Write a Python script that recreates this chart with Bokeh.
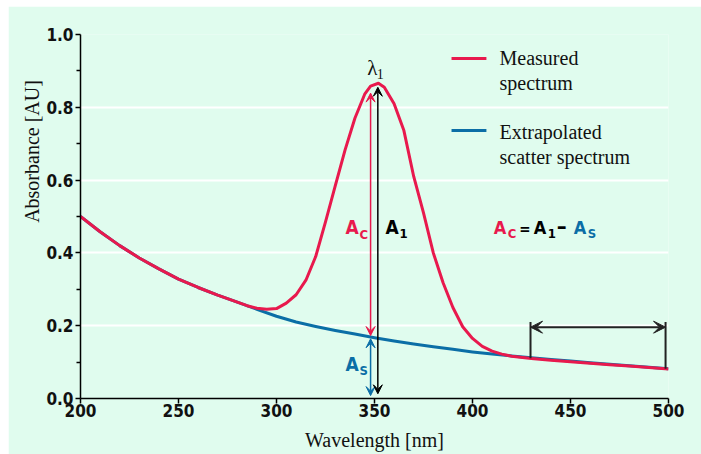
import numpy as np
from bokeh.plotting import figure
from bokeh.layouts import column, row
from bokeh.models import (Range1d, Label, Arrow, VeeHead, FixedTicker, PrintfTickFormatter,
                          Spacer)
from bokeh.embed import file_html
from bokeh.resources import INLINE

# ---------------- data ----------------
scatter_wl = [200, 210, 220, 230, 240, 250, 260, 270, 280, 290, 300, 310, 320, 330, 340,
              350, 360, 370, 380, 390, 400, 410, 420, 430, 440, 450, 460, 470, 480, 490, 500]
scatter_abs = [0.500, 0.458, 0.420, 0.386, 0.356, 0.328, 0.305, 0.284, 0.265, 0.245, 0.226,
               0.210, 0.198, 0.187, 0.177, 0.167, 0.158, 0.150, 0.142, 0.135, 0.128, 0.122,
               0.117, 0.112, 0.107, 0.103, 0.098, 0.094, 0.090, 0.086, 0.082]

measured_wl = [200, 210, 220, 230, 240, 250, 260, 270, 280, 285, 290, 295, 300, 305, 310,
               315, 320, 325, 330, 335, 340, 345, 348, 352, 355, 360, 365, 370, 375, 380, 385,
               390, 395, 400, 405, 410, 415, 420, 430, 440, 450, 460, 470, 480, 490, 500]
measured_abs = [0.500, 0.458, 0.420, 0.386, 0.356, 0.328, 0.305, 0.284, 0.265, 0.255, 0.248,
                0.245, 0.247, 0.262, 0.285, 0.325, 0.390, 0.485, 0.585, 0.683, 0.770, 0.836,
                0.858, 0.866, 0.855, 0.810, 0.736, 0.610, 0.510, 0.400, 0.318, 0.250, 0.197,
                0.165, 0.143, 0.130, 0.122, 0.116, 0.110, 0.105, 0.101, 0.097, 0.093, 0.089,
                0.085, 0.081]

x_ticks = [200, 250, 300, 350, 400, 450, 500]
y_ticks = [0.0, 0.2, 0.4, 0.6, 0.8, 1.0]
y_minor = [0.1, 0.3, 0.5, 0.7, 0.9]

series_names = ["Measured", "spectrum", "Extrapolated", "scatter spectrum"]
x_title = "Wavelength [nm]"
y_title = "Absorbance [AU]"

# annotation anchors (wavelengths)
split_wl = 348.0      # A_C / A_S arrows
total_wl = 351.7      # A_1 arrow
window_wl = [429.6, 498.5]  # baseline window bracket

# ---------------- style ----------------
MINT = "#e0fcee"
RED = "#e8194d"
BLUE = "#0b6ea6"
DARK = "#222222"
INK = "#111111"
SERIF = "Liberation Serif"
NARROW = "'Liberation Sans Narrow', 'DejaVu Sans Condensed', 'Roboto Condensed', Roboto, sans-serif"
Y_TITLE_PAD = "\u00a0" * 26   # lifts the y title above the frame centre, as in the original

p = figure(width=693, height=448, x_range=Range1d(200, 500), y_range=Range1d(0, 1.0),
           output_backend="svg", toolbar_location=None,
           min_border_left=72, min_border_right=33, min_border_top=28, min_border_bottom=56,
           background_fill_color=MINT, border_fill_color=MINT, outline_line_color=None)

p.xgrid.visible = False
p.ygrid.ticker = FixedTicker(ticks=y_ticks)
p.ygrid.grid_line_color = "white"
p.ygrid.grid_line_width = 2

for ax in (p.xaxis[0], p.yaxis[0]):
    ax.axis_line_color = "black"
    ax.axis_line_width = 1.5
    ax.major_tick_line_color = "black"
    ax.major_tick_line_width = 1.5
    ax.minor_tick_line_color = "black"
    ax.minor_tick_line_width = 1.5
    ax.major_tick_in = 0
    ax.major_tick_out = 5
    ax.minor_tick_in = 0
    ax.minor_tick_out = 4
    ax.major_label_text_font = NARROW
    ax.major_label_text_font_style = "bold"
    ax.major_label_text_font_size = "17px"
    ax.major_label_text_color = INK
    ax.axis_label_text_font = SERIF
    ax.axis_label_text_font_size = "20px"
    ax.axis_label_text_font_style = "normal"
    ax.axis_label_text_color = INK

p.xaxis.ticker = FixedTicker(ticks=x_ticks)
p.xaxis.formatter = PrintfTickFormatter(format="%d")
p.xaxis.major_label_standoff = 0
p.xaxis.axis_label = x_title
p.xaxis.axis_label_standoff = 9

p.yaxis.ticker = FixedTicker(ticks=y_ticks, minor_ticks=y_minor)
p.yaxis.formatter = PrintfTickFormatter(format="%.1f")
p.yaxis.major_label_standoff = 2
p.yaxis.axis_label = Y_TITLE_PAD + y_title
p.yaxis.axis_label_standoff = 0

# ---------------- curves ----------------
p.line(scatter_wl, scatter_abs, line_color=BLUE, line_width=3, line_join="round")
p.line(measured_wl, measured_abs, line_color=RED, line_width=3, line_join="round")

# ---------------- arrows ----------------
peak = max(measured_abs)
s_at = float(np.interp(split_wl, scatter_wl, scatter_abs))

def head(c, s=9):
    return VeeHead(size=s, fill_color=c, line_color=c, line_width=1)

p.add_layout(Arrow(start=head(RED), end=head(RED), x_start=split_wl, y_start=s_at + 0.004,
                   x_end=split_wl, y_end=peak - 0.027, line_color=RED, line_width=1.5))
p.add_layout(Arrow(start=head(BLUE), end=head(BLUE), x_start=split_wl, y_start=0.008,
                   x_end=split_wl, y_end=s_at - 0.005, line_color=BLUE, line_width=1.5))
p.add_layout(Arrow(start=head("black"), end=head("black"), x_start=total_wl, y_start=0.013,
                   x_end=total_wl, y_end=peak - 0.011, line_color="black", line_width=1.5))

# baseline window bracket
y_br = 0.196
p.add_layout(Arrow(start=head(DARK, 12), end=head(DARK, 12), x_start=window_wl[0], y_start=y_br,
                   x_end=window_wl[1], y_end=y_br, line_color=DARK, line_width=2))
m_end = [float(np.interp(w, measured_wl, measured_abs)) for w in window_wl]
p.segment(x0=window_wl, y0=[0.21, 0.21], x1=window_wl, y1=m_end, line_color=DARK, line_width=2)

# ---------------- text annotations ----------------
def txt(x, y, s, color, size, xo=0, yo=0, font=NARROW, style="bold"):
    shift = 0.36 * size  # compensate baseline placement of the renderer
    p.add_layout(Label(x=x, y=y, text=s, text_color=color, text_font=font,
                       text_font_size=f"{size}px", text_font_style=style, x_offset=xo,
                       y_offset=yo + shift, text_align="left", text_baseline="alphabetic"))

# λ1
txt(346.3, 0.887, "λ", INK, 21, font=SERIF, style="normal")
txt(346.3, 0.887, "1", INK, 14, xo=9.5, yo=-3, font=SERIF, style="normal")
# A_C
txt(335.2, 0.452, "A", RED, 19)
txt(335.2, 0.452, "C", RED, 13, xo=14, yo=-5)
# A_1
txt(355.6, 0.452, "A", "black", 19)
txt(355.6, 0.452, "1", "black", 13, xo=14, yo=-4)
# A_S
txt(335.2, 0.077, "A", BLUE, 19)
txt(335.2, 0.077, "S", BLUE, 13, xo=14, yo=-5)

# equation A_C = A_1 – A_S
ex, ey = 410.9, 0.452
txt(ex, ey, "A", RED, 18)
txt(ex, ey, "C", RED, 13, xo=14, yo=-4)
txt(ex, ey, "=", "black", 15, xo=25.5)
txt(ex, ey, "A", "black", 18, xo=40)
txt(ex, ey, "1", "black", 13, xo=54, yo=-4)
txt(ex, ey, "–", "black", 22, xo=63)
txt(ex, ey, "A", BLUE, 18, xo=80)
txt(ex, ey, "S", BLUE, 13, xo=94, yo=-4)

# ---------------- legend ----------------
leg_x = [389.3, 407.1]
p.line(leg_x, [0.934, 0.934], line_color=RED, line_width=3)
p.line(leg_x, [0.736, 0.736], line_color=BLUE, line_width=3)
lx = 413.8
txt(lx, 0.915, series_names[0], INK, 20, font=SERIF, style="normal")
txt(lx, 0.846, series_names[1], INK, 20, font=SERIF, style="normal")
txt(lx, 0.713, series_names[2], INK, 20, font=SERIF, style="normal")
txt(lx, 0.645, series_names[3], INK, 20, font=SERIF, style="normal")

layout = column(Spacer(height=6), row(Spacer(width=8), p))
open("out.html", "w").write(file_html(layout, INLINE))
